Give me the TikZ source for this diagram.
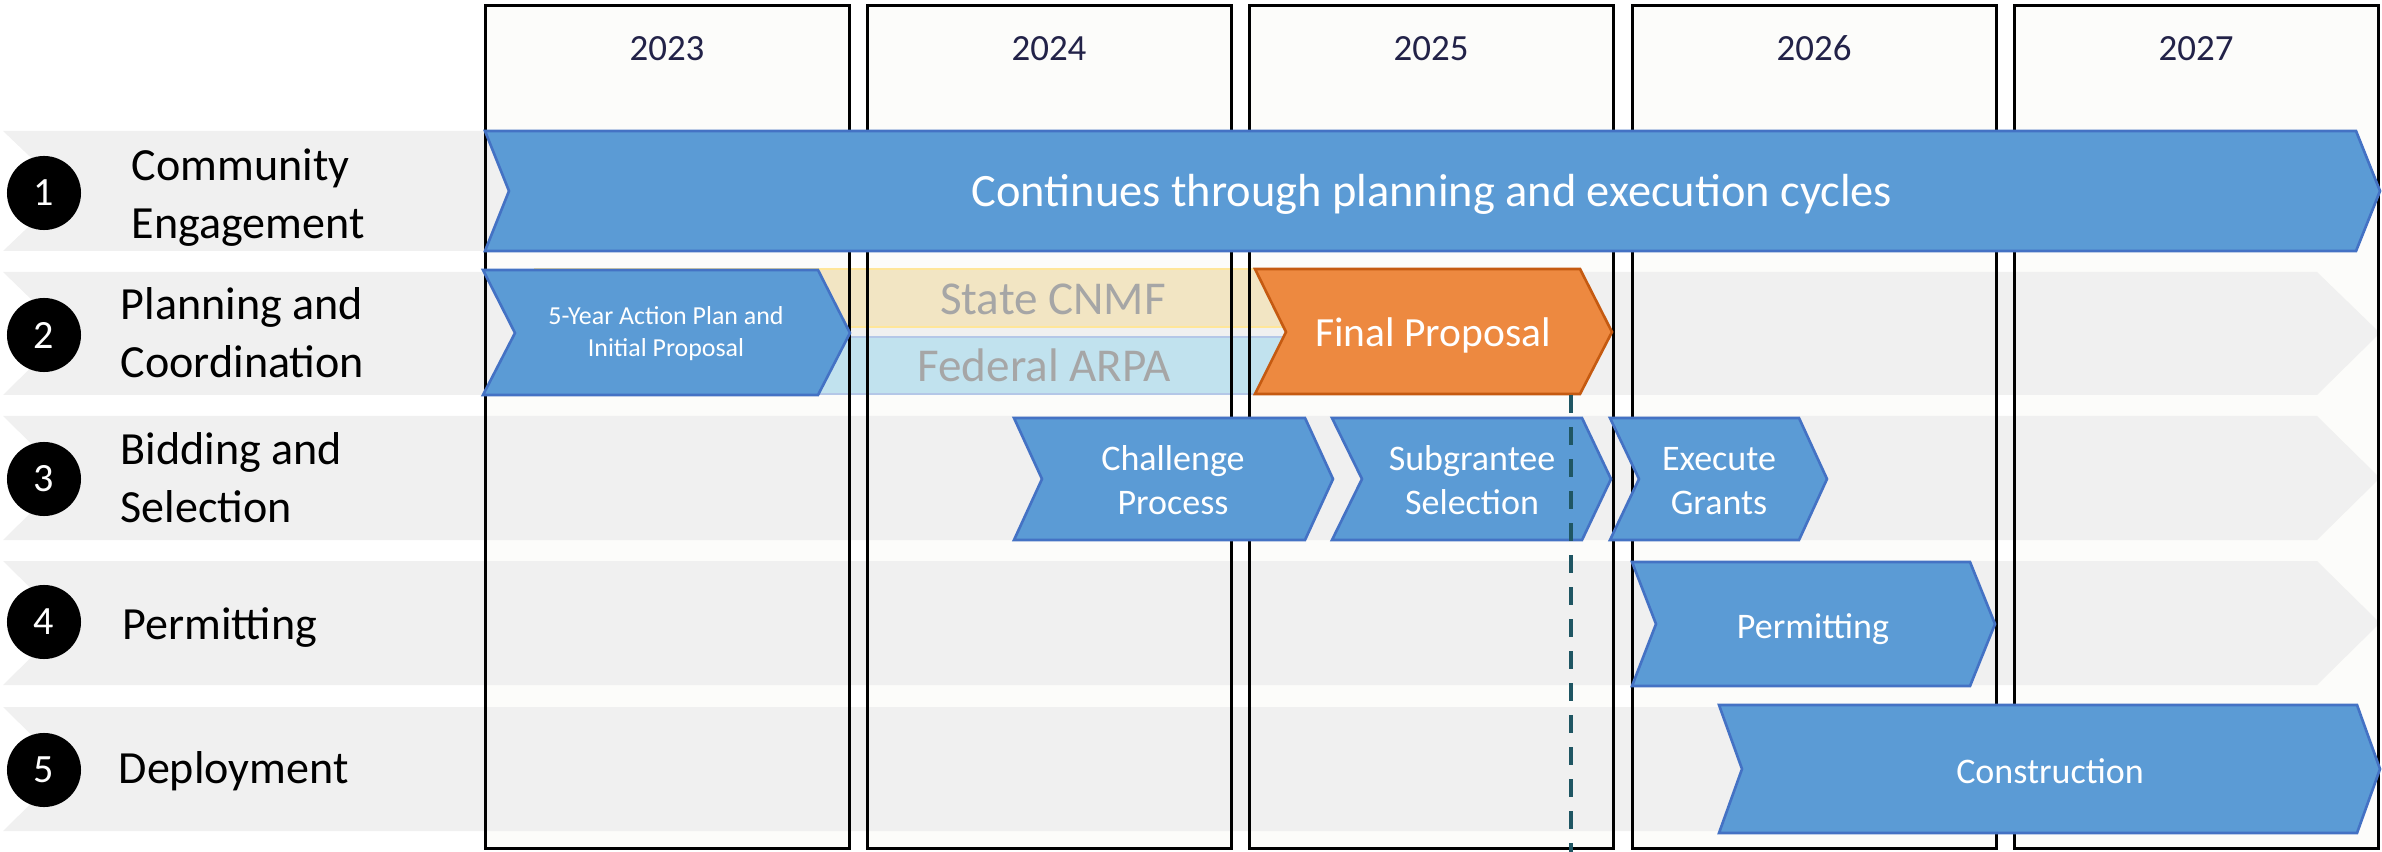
\documentclass[tikz,border=0pt]{standalone}
\usepackage{fontspec}
\setmainfont{Carlito}
\definecolor{barblue}{RGB}{91,155,213}
\definecolor{barline}{RGB}{68,114,196}
\definecolor{propfill}{RGB}{237,137,64}
\definecolor{propline}{RGB}{197,90,17}
\definecolor{rowgray}{RGB}{240,240,240}
\definecolor{yearfill}{RGB}{252,252,250}
\definecolor{yeartext}{RGB}{34,34,72}
\definecolor{statefill}{RGB}{242,229,195}
\definecolor{stateline}{RGB}{255,230,153}
\definecolor{fedfill}{RGB}{193,226,238}
\definecolor{fedline}{RGB}{180,199,231}
\definecolor{fundtext}{RGB}{166,166,166}
\definecolor{cutoff}{RGB}{31,86,99}
\begin{document}
\begin{tikzpicture}[x=0.01cm,y=-0.01cm,
    yearbox/.style={draw=black,line width=0.85pt},
    band/.style={fill=rowgray},
    chev/.style={fill=barblue,draw=barline,line width=0.75pt,line join=miter},
    num/.style={circle,fill=black,minimum size=0.74cm,inner sep=0pt,text=white,
      font=\fontsize{11.4}{13}\selectfont},
    rowlabel/.style={anchor=west,align=left,inner sep=0pt,
      font=\fontsize{13.1}{16.5}\selectfont},
    yearlabel/.style={anchor=base,inner sep=0pt,text=yeartext,
      font=\fontsize{10.5}{12}\selectfont},
    steplabel/.style={align=center,inner sep=0pt,text=white,
      font=\fontsize{10.24}{12.7}\selectfont},
    fundlabel/.style={anchor=base,inner sep=0pt,text=fundtext,
      font=\fontsize{13.4}{15}\selectfont}]
  \useasboundingbox (0,0) rectangle (2382,852);

  \fill[yearfill] (485,6) rectangle (849,848);
  \fill[yearfill] (867,6) rectangle (1231,848);
  \fill[yearfill] (1249,6) rectangle (1613,848);
  \fill[yearfill] (1632,6) rectangle (1996,848);
  \fill[yearfill] (2014,6) rectangle (2378,848);

  \fill[band] (3,131) -- (2317,131) -- (2380,191) -- (2317,251) -- (3,251) -- (66,191) -- cycle;
  \fill[band] (3,272) -- (2317,272) -- (2380,333) -- (2317,395) -- (3,395) -- (66,333) -- cycle;
  \fill[band] (3,416) -- (2317,416) -- (2380,478) -- (2317,540) -- (3,540) -- (66,478) -- cycle;
  \fill[band] (3,561) -- (2317,561) -- (2380,623) -- (2317,685) -- (3,685) -- (66,623) -- cycle;
  \fill[band] (3,707) -- (2317,707) -- (2380,769) -- (2317,831) -- (3,831) -- (66,769) -- cycle;

  \draw[fill=statefill,draw=stateline,line width=0.6pt] (535,269) rectangle (1300,327);
  \draw[fill=fedfill,draw=fedline,line width=0.6pt] (535,337) rectangle (1300,394);

  \draw[yearbox] (485,6) rectangle (849,848);
  \draw[yearbox] (867,6) rectangle (1231,848);
  \draw[yearbox] (1249,6) rectangle (1613,848);
  \draw[yearbox] (1632,6) rectangle (1996,848);
  \draw[yearbox] (2014,6) rectangle (2378,848);

  \draw[chev] (485,131) -- (2356,131) -- (2380,191) -- (2356,251) -- (485,251) -- (509,191) -- cycle;
  \draw[chev] (483,270) -- (818,270) -- (850,333) -- (818,395) -- (483,395) -- (515,333) -- cycle;
  \draw[chev,fill=propfill,draw=propline] (1255,269) -- (1580,269) -- (1612,332) -- (1580,394) -- (1255,394) -- (1286,332) -- cycle;
  \draw[chev] (1014,418) -- (1305,418) -- (1333,479) -- (1305,540) -- (1014,540) -- (1042,479) -- cycle;
  \draw[chev] (1332,418) -- (1582,418) -- (1611,479) -- (1582,540) -- (1332,540) -- (1362,479) -- cycle;
  \draw[chev] (1610,418) -- (1799,418) -- (1827,479) -- (1799,540) -- (1610,540) -- (1639,479) -- cycle;
  \draw[chev] (1632,562) -- (1970,562) -- (1995,624) -- (1970,686) -- (1632,686) -- (1656,624) -- cycle;
  \draw[chev] (1719,705) -- (2357,705) -- (2380,769) -- (2357,833) -- (1719,833) -- (1742,769) -- cycle;

  \coordinate (cuttop) at (1571,395);
  \coordinate (cutbot) at (1571,852);
  \draw[cutoff,line width=1.14pt,dash pattern=on 5pt off 4.1pt] (cuttop) -- (cutbot);

  \node[yearlabel] (y2023) at (667,61) {2023};
  \node[yearlabel] (y2024) at (1049,61) {2024};
  \node[yearlabel] (y2025) at (1431,61) {2025};
  \node[yearlabel] (y2026) at (1814,61) {2026};
  \node[yearlabel] (y2027) at (2196,61) {2027};

  \node[num] (n1) at (44,193) {1};
  \node[num] (n2) at (44,335) {2};
  \node[num] (n3) at (44,479) {3};
  \node[num] (n4) at (44,622) {4};
  \node[num] (n5) at (44,770) {5};

  \node[rowlabel] (engage) at (131,198) {Community\\Engagement};
  \node[rowlabel] (plan) at (120,332.5) {Planning and\\Coordination};
  \node[rowlabel] (bid) at (120,477.5) {Bidding and\\Selection};
  \node[rowlabel,anchor=base west] (permit) at (122,639) {Permitting};
  \node[rowlabel,anchor=base west] (deploy) at (118,783) {Deployment};

  \node[anchor=base,inner sep=0pt,text=white,font=\fontsize{13.2}{15}\selectfont] (cycles) at (1432,207) {Continues through planning and execution cycles};
  \node[steplabel,font=\fontsize{7.37}{9.1}\selectfont] (action) at (666,334) {5-Year Action Plan and\\Initial Proposal};
  \node[fundlabel] (cnmf) at (1053,315) {State CNMF};
  \node[fundlabel] (arpa) at (1044,382) {Federal ARPA};
  \node[anchor=base,inner sep=0pt,text=white,font=\fontsize{11.8}{14}\selectfont] (final) at (1433,347) {Final Proposal};
  \node[steplabel] (challenge) at (1173,480) {Challenge\\Process};
  \node[steplabel] (subgrant) at (1472,480) {Subgrantee\\Selection};
  \node[steplabel] (execute) at (1719,481) {Execute\\Grants};
  \node[steplabel,anchor=base] (permitbar) at (1813,638) {Permitting};
  \node[steplabel,anchor=base] (build) at (2050,783) {Construction};
\end{tikzpicture}
\end{document}
